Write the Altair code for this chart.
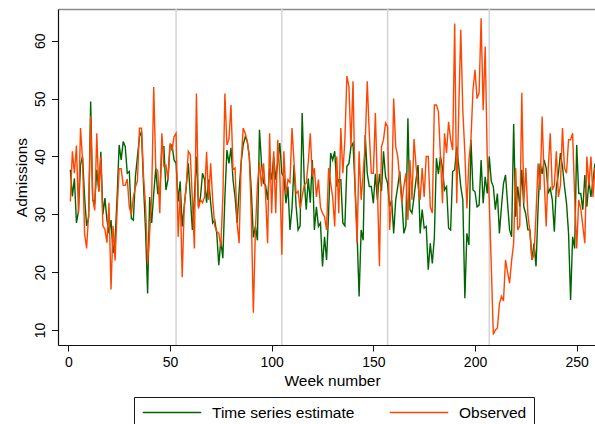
import altair as alt
import pandas as pd

# Weekly values (week 1 .. 259)
estimate = [
    37.7, 33.1, 36.2, 28.5, 30.5, 38.5, 40, 33, 28, 29.5,
    49.5, 32.5, 32, 37.7, 34, 40.8, 30, 32.8, 29, 26.7,
    29, 23.3, 25.5, 33, 42, 39.4, 42.6, 41.7, 37.1, 37.4,
    29.3, 29, 36.5, 40, 43.4, 44.3, 35, 27, 16.3, 33,
    28.5, 33.6, 37.9, 33.6, 33.6, 41.7, 41.7, 34.2, 36, 41.7,
    42, 39.4, 38.8, 32.2, 35.7, 27.9, 31.3, 34.8, 38.8, 33,
    27.3, 33, 40, 31.3, 33, 37.1, 36, 32, 36, 32,
    28.5, 29, 26.7, 21.2, 25.5, 22.4, 33, 41.1, 38.8, 41.5,
    36, 33, 28.5, 34, 39, 42, 43.4, 42.6, 40, 34,
    26, 27.9, 25.5, 44.6, 38.8, 35.4, 35, 32.5, 38, 36,
    40, 36, 39, 42.3, 37.1, 36.5, 31.9, 34.8, 27.3, 31,
    38.5, 31.5, 27.3, 28, 47.5, 36, 30.8, 36.2, 32, 39.4,
    27.3, 31.3, 27.9, 28.5, 21, 26.1, 22.1, 30.2, 40.6, 39.4,
    40.9, 34.8, 36, 36, 28.5, 28, 38.3, 38.8, 41.7, 42.3,
    34.8, 26.7, 15.8, 27.3, 25.5, 43.7, 37.1, 34.8, 34.8, 31.9,
    37, 32.5, 37, 34, 40.9, 36.5, 35.4, 31.3, 32.5, 26.7,
    32.5, 34.8, 37.4, 32.5, 26.7, 28, 46.6, 30.8, 30.2, 33,
    36, 38.5, 26.7, 30.8, 27.6, 27.9, 20.4, 25, 21.5, 26,
    39.7, 37, 40, 38, 34.2, 34.8, 27.6, 27.3, 37.4, 37.7,
    41.7, 38.3, 34.8, 32.5, 15.5, 26.7, 24.7, 42.9, 34.2, 33.9,
    31.3, 31.6, 39.4, 31.9, 36.5, 33.6, 40, 35.7, 34.8, 30.8,
    33.6, 26.7, 31.3, 35.3, 36.8, 31.9, 27.3, 26.1, 45.6, 29.6,
    34.8, 31.3, 37.7, 31.3, 30, 27.3, 27.3, 22.1, 25, 21,
    31, 38.8, 37, 39.4, 38, 33.6, 34.5, 32.5, 27, 34.8,
    37, 40.6, 38.3, 34.8, 31.9, 26.7, 15.2, 26.1, 24.1, 42,
    33.6, 33.6, 30.8, 36.8, 31.3, 35.8, 33, 35.8, 38.8,
]

observed = [
    32.2, 40.9, 37.1, 41.9, 30.2, 44.9, 39.4, 26.7, 24.1, 30.2,
    47, 32.6, 30.7, 44, 33.9, 40, 28, 27.4, 25.1, 32,
    17, 28, 22, 30.7, 37.9, 37.9, 35, 35, 36.1, 31.2,
    30, 33, 34.7, 35.8, 44.9, 44.9, 36.5, 31.3, 21.5, 26.7,
    33.3, 52, 38, 37.5, 30.2, 44, 38.3, 38.5, 36, 42.3,
    41, 43.4, 44, 26.1, 34, 19.1, 31.3, 35, 40.9, 40.3,
    32.5, 24.1, 50.9, 31, 32.5, 32, 33, 40.8, 32.5, 38.8,
    32.5, 28, 27, 26.7, 24.4, 33, 50.9, 42, 43, 48.9,
    37.7, 38, 28.5, 25, 39, 44.9, 44, 42.6, 40, 29.6,
    13, 27.2, 35, 39, 34.8, 38.8, 33.5, 25, 44, 30.2,
    40.9, 30.2, 42.9, 37, 23, 40.9, 33.5, 36, 35.5, 44.9,
    39, 33.6, 34, 31, 33, 35, 35.4, 39, 44, 36.5,
    38, 33, 36, 31.2, 30.2, 29.6, 27.3, 38, 35.4, 33,
    27.9, 40, 30.2, 44.9, 37.1, 42.9, 53.9, 52.1, 41.7, 53,
    34.8, 25, 40.9, 32.5, 37.1, 42.3, 53, 44, 37.1, 37.1,
    47.5, 34.8, 21, 41.7, 42.9, 45.8, 45.2, 27.3, 32.5, 50,
    41.7, 40, 36, 32, 34.8, 37.1, 29, 39.4, 32.5, 43,
    38.3, 34.8, 32.5, 38, 33, 40, 40, 31.3, 30.2, 48.9,
    48.9, 47.8, 40, 31.9, 44, 40.6, 46, 42.9, 41.1, 63,
    31.9, 48, 61.9, 48, 40.6, 31, 39.4, 42.9, 51.5, 55,
    50, 51, 63.9, 48, 59, 40, 32.5, 21, 9.2, 10,
    10.3, 14.5, 15.8, 15, 22.1, 20, 18.1, 22, 25, 38,
    27.3, 28, 51, 32, 38, 30, 27, 22.1, 23, 30,
    38.8, 34.2, 46.9, 36, 27.9, 38, 44, 34.2, 35, 40.9,
    33, 35, 44.9, 38, 37.1, 42.9, 42.9, 44, 33, 24.1,
    32.5, 31, 28, 25, 40, 35, 40, 33, 38,
]

year_breaks = [53, 105, 157, 207]
x_ticks = [0, 50, 100, 150, 200, 250]
y_ticks = [10, 20, 30, 40, 50, 60]
series_names = ["Time series estimate", "Observed"]
series_colors = ["#006400", "#ff4500"]

weeks = list(range(1, len(estimate) + 1))
df = pd.DataFrame({
    "week": weeks + weeks,
    "value": estimate + observed,
    "series": [series_names[0]] * len(estimate) + [series_names[1]] * len(observed),
})
breaks_df = pd.DataFrame({"week": year_breaks})

FONT = "Liberation Sans"
x_scale = alt.Scale(domain=[-5.07, 259], nice=False, zero=False)
y_scale = alt.Scale(domain=[7.4, 65.5], nice=False, zero=False)
color_scale = alt.Scale(domain=series_names, range=series_colors)

bottom_axis = alt.Axis(
    values=x_ticks, title="Week number", grid=False,
    domainColor="#111", domainWidth=1.2, tickColor="#111", tickSize=6,
    labelFontSize=14, labelPadding=4, labelColor="#000", labelFont=FONT,
    titleFont=FONT, titleFontSize=15.5, titleFontWeight="normal", titleColor="#000",
    titleX=274, titleY=35, titleBaseline="middle", titleAlign="center",
)

y_axis = alt.Axis(
    values=y_ticks, title="Admissions", grid=False,
    domainColor="#111", domainWidth=1.2, tickColor="#111", tickSize=6.5,
    labelAngle=270, labelAlign="center", labelBaseline="middle",
    labelPadding=11, labelFontSize=14, labelColor="#000", labelFont=FONT,
    titleFont=FONT, titleFontSize=15.5, titleFontWeight="normal", titleColor="#000",
    titleAngle=270, titleX=-37, titleY=168, titleAlign="center", titleBaseline="middle",
)

top_axis = alt.Axis(
    orient="top", labels=False, ticks=False, title=None, grid=False,
    domainColor="#8a8a8a", domainWidth=1.5,
)

rules = alt.Chart(breaks_df).mark_rule(color="#d4d4d4", strokeWidth=1.5).encode(
    x=alt.X("week:Q", scale=x_scale, axis=top_axis),
)

legend = alt.Legend(
    title=None, orient="none", legendX=76, legendY=388, direction="horizontal",
    symbolType="M-0.9,0H6.9", symbolSize=225, symbolStrokeWidth=1.5,
    labelFontSize=15.5, labelFont=FONT, labelColor="#000", labelOffset=54,
    columnPadding=31, padding=7, strokeColor="#1a1a1a", fillColor="white",
)

line_est = alt.Chart(df).transform_filter(
    alt.datum.series == series_names[0]
).mark_line(strokeWidth=1.4).encode(
    x=alt.X("week:Q", scale=x_scale, axis=bottom_axis),
    y=alt.Y("value:Q", scale=y_scale, axis=y_axis),
    color=alt.Color("series:N", scale=color_scale, legend=legend),
)

line_obs = alt.Chart(df).transform_filter(
    alt.datum.series == series_names[1]
).mark_line(strokeWidth=1.4).encode(
    x=alt.X("week:Q", scale=x_scale, axis=None),
    y=alt.Y("value:Q", scale=y_scale, axis=y_axis),
    color=alt.Color("series:N", scale=color_scale, legend=legend),
)

chart = alt.layer(rules, line_est, line_obs).resolve_axis(x="independent").properties(
    width=537, height=336,
    autosize=alt.AutoSizeParams(type="none"),
    padding={"left": 58, "top": 9, "right": 0, "bottom": 79},
).configure_view(stroke=None).configure(background="white")

chart.save("out.html", embed_options={"renderer": "svg", "actions": False})
